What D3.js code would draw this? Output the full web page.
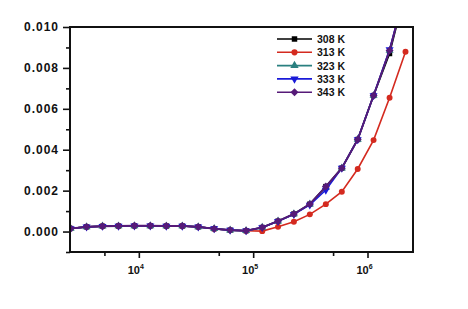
<!DOCTYPE html>
<html>
<head>
<meta charset="utf-8">
<script src="https://cdn.jsdelivr.net/npm/d3@7"></script>
<style>
  body { margin: 0; background: #fff; }
  text { font-family: "Liberation Sans", Arial, sans-serif; font-weight: bold; fill: #111; }
</style>
</head>
<body>
<script>
const width = 468;
const height = 309;
const margin = { top: 27, right: 55, bottom: 57, left: 70 };

// frequency (Hz)
const freq = [2530, 3490, 4810, 6640, 9150, 12600, 17400, 24000, 33100, 45600, 62900,
  86700, 120000, 165000, 227000, 313000, 432000, 596000, 821000, 1130000, 1560000, 2150000];

const v308 = [0.00015, 0.00023, 0.00026, 0.00027, 0.00028, 0.00028, 0.00027, 0.00027, 0.00023, 0.00014, 0.00007,
  0.00004, 0.00020, 0.00051, 0.00086, 0.00134, 0.00220, 0.00310, 0.00450, 0.00665, 0.00870, 0.01180];
const v313 = [0.00015, 0.00023, 0.00026, 0.00027, 0.00028, 0.00028, 0.00027, 0.00027, 0.00023, 0.00014, 0.00007,
  0.00004, 0.00002, 0.00023, 0.00048, 0.00084, 0.00134, 0.00195, 0.00306, 0.00447, 0.00654, 0.00879];
const v323 = [0.00015, 0.00023, 0.00026, 0.00027, 0.00028, 0.00028, 0.00027, 0.00027, 0.00023, 0.00014, 0.00007,
  0.00004, 0.00020, 0.00051, 0.00086, 0.00134, 0.00215, 0.00310, 0.00450, 0.00665, 0.00885, 0.01180];
const v333 = [0.00015, 0.00023, 0.00026, 0.00027, 0.00028, 0.00028, 0.00027, 0.00027, 0.00023, 0.00014, 0.00007,
  0.00004, 0.00020, 0.00050, 0.00084, 0.00130, 0.00203, 0.00310, 0.00450, 0.00665, 0.00890, 0.01180];
const v343 = [0.00015, 0.00023, 0.00026, 0.00027, 0.00028, 0.00028, 0.00027, 0.00027, 0.00023, 0.00014, 0.00007,
  0.00004, 0.00020, 0.00051, 0.00086, 0.00134, 0.00220, 0.00310, 0.00450, 0.00665, 0.00885, 0.01180];

const labels = ["308 K", "313 K", "323 K", "333 K", "343 K"];
const colors = ["#000000", "#d42a1f", "#2a8080", "#1a1ad8", "#561a78"];
const symbols = [d3.symbolSquare, d3.symbolCircle, d3.symbolTriangle, "down", d3.symbolDiamond2];
const values = [v308, v313, v323, v333, v343];

const yTicks = [0.000, 0.002, 0.004, 0.006, 0.008, 0.010];
const yMinor = [-0.001, 0.001, 0.003, 0.005, 0.007, 0.009];
const xTicks = [1e4, 1e5, 1e6];
const xMinor = [5e3, 5e4, 5e5];

const svg = d3.select("body").append("svg")
  .attr("width", width)
  .attr("height", height);

const x = d3.scaleLog()
  .domain([2500, 2500000])
  .range([margin.left, width - margin.right]);

const y = d3.scaleLinear()
  .domain([-0.001, 0.010])
  .range([height - margin.bottom, margin.top]);

svg.append("clipPath").attr("id", "clip")
  .append("rect")
  .attr("x", margin.left).attr("y", margin.top)
  .attr("width", width - margin.left - margin.right)
  .attr("height", height - margin.top - margin.bottom);

function sym(i, size) {
  if (symbols[i] === "down") {
    return d3.symbol(d3.symbolTriangle, size)();
  }
  return d3.symbol(symbols[i], size)();
}
function symRot(i) { return symbols[i] === "down" ? " rotate(180)" : ""; }

const line = d3.line()
  .x(d => x(d[0]))
  .y(d => y(d[1]));

const plot = svg.append("g").attr("clip-path", "url(#clip)");

values.forEach((vals, i) => {
  const pts = freq.map((f, j) => [f, vals[j]]);
  plot.append("path")
    .datum(pts)
    .attr("fill", "none")
    .attr("stroke", colors[i])
    .attr("stroke-width", i === 4 ? 1.9 : 1.6)
    .attr("d", line);
  plot.selectAll(".m" + i)
    .data(pts)
    .enter()
    .append("path")
    .attr("class", "m" + i)
    .attr("transform", d => `translate(${x(d[0])},${y(d[1])})` + symRot(i))
    .attr("d", sym(i, i === 4 ? 40 : 28))
    .attr("fill", colors[i]);
});

// axes
const yAxis = d3.axisLeft(y).tickValues(yTicks).tickFormat(d3.format(".3f")).tickSize(7).tickPadding(4);
const yAxisMinor = d3.axisLeft(y).tickValues(yMinor).tickFormat("").tickSize(4);
const xAxis = d3.axisBottom(x).tickValues(xTicks).tickFormat("").tickSize(6);
const xAxisMinor = d3.axisBottom(x).tickValues(xMinor).tickFormat("").tickSize(4);

const gy = svg.append("g").attr("transform", `translate(${margin.left},0)`).call(yAxis);
svg.append("g").attr("transform", `translate(${margin.left},0)`).call(yAxisMinor);
svg.append("g").attr("transform", `translate(0,${height - margin.bottom})`).call(xAxis);
svg.append("g").attr("transform", `translate(0,${height - margin.bottom})`).call(xAxisMinor);

svg.selectAll(".domain").remove();
svg.selectAll(".tick line").attr("stroke", "#111").attr("stroke-width", 1.6);
gy.selectAll("text")
  .style("font-size", "12px")
  .style("letter-spacing", "1px")
  .attr("fill", "#111");

// x tick labels with superscripts
xTicks.forEach(t => {
  const txt = svg.append("text")
    .attr("x", x(t) - 3)
    .attr("y", 274)
    .attr("text-anchor", "middle")
    .style("font-size", "11px");
  txt.append("tspan").text("10");
  txt.append("tspan").attr("dy", -5).style("font-size", "7px").text(Math.round(Math.log10(t)));
});

// frame
svg.append("rect")
  .attr("x", margin.left)
  .attr("y", margin.top)
  .attr("width", width - margin.left - margin.right)
  .attr("height", height - margin.top - margin.bottom)
  .attr("fill", "none")
  .attr("stroke", "#111")
  .attr("stroke-width", 2);

// legend
const legend = svg.append("g").attr("transform", "translate(277,39)");
labels.forEach((lab, i) => {
  const g = legend.append("g").attr("transform", `translate(0,${i * 13.3})`);
  g.append("line")
    .attr("x1", 0).attr("x2", 35)
    .attr("stroke", colors[i]).attr("stroke-width", 1.6);
  g.append("path")
    .attr("transform", "translate(17.5,0)" + symRot(i))
    .attr("d", sym(i, i === 4 ? 40 : 30))
    .attr("fill", colors[i]);
  g.append("text")
    .attr("x", 40)
    .attr("y", 4)
    .style("font-size", "10.5px")
    .text(lab);
});
</script>
</body>
</html>
